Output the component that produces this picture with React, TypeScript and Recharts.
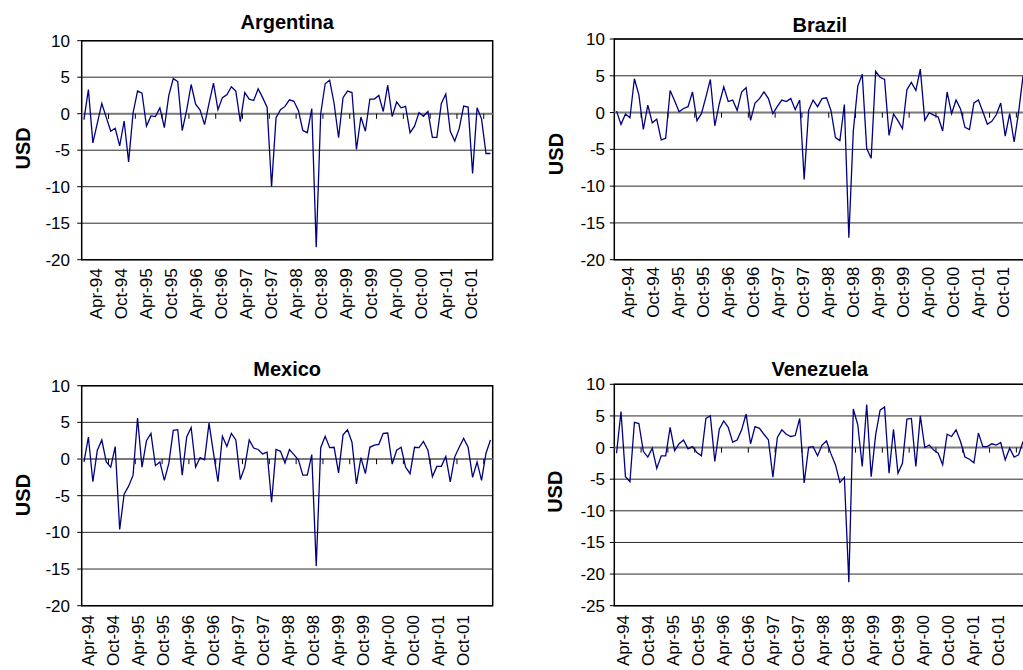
import React from 'react';
import { LineChart, Line, XAxis, YAxis, CartesianGrid, ReferenceLine, ReferenceArea } from 'recharts';

const argentina = [
  -0.8, 3.3, -4.0, -1.3, 1.4, -0.5, -2.4, -2.0, -4.4, -1.0,
  -6.6, 0.1, 3.1, 2.8, -1.7, -0.3, -0.4, 0.8, -1.9, 2.5,
  4.8, 4.4, -2.3, 0.5, 4.0, 1.3, 0.5, -1.5, 1.4, 4.2,
  0.55, 2.2, 2.6, 3.7, 3.1, -1.1, 2.9, 2.0, 1.8, 3.4,
  2.2, 0.9, -10.0, -0.55, 0.55, 1.0, 1.9, 1.7, 0.45, -2.3,
  -2.6, 0.7, -18.3, 0, 4.1, 4.6, 1.4, -3.3, 2.2, 3.1,
  2.9, -4.9, -0.45, -2.4, 2.0, 2.0, 2.5, 0.3, 3.9, -0.4,
  1.6, 0.8, 1.0, -2.6, -1.7, 0.15, -0.35, 0.3, -3.25, -3.25,
  1.4, 2.7, -2.4, -3.75, -2.05, 1.05, 0.9, -8.2, 0.8, -0.7,
  -5.45, -5.45,
];

const brazil = [
  0.2, -1.6, -0.2, -0.7, 4.6, 2.4, -2.3, 1.0, -1.4, -0.9,
  -3.7, -3.5, 3.0, 1.6, 0.1, 0.55, 0.8, 2.8, -1.1, -0.15,
  2.1, 4.5, -1.8, 1.2, 3.5, 1.5, 1.7, 0.3, 2.8, 3.4,
  -1.05, 1.3, 1.9, 2.8, 1.9, -0.15, 0.85, 1.7, 1.5, 1.9,
  0.4, 1.7, -9.1, 0.3, 1.7, 0.8, 1.9, 2.0, 0.3, -3.4,
  -3.8, 1.1, -17.0, -2.5, 3.6, 5.2, -4.9, -6.2, 5.6, 4.8,
  4.5, -3.1, -0.2, -1.1, -2.2, 3.1, 4.1, 3.0, 5.9, -1.05,
  0, -0.35, -0.6, -2.5, 2.8, -0.15, 1.7, 0.5, -2.0, -2.3,
  1.3, 1.7, 0.1, -1.6, -1.2, -0.3, 1.3, -3.2, -0.15, -4.0,
  0.05, 5.0,
];

const mexico = [
  -0.4, 3.0, -3.1, 1.2, 2.6, -0.4, -1.1, 1.7, -9.6, -4.8,
  -3.7, -2.2, 5.6, -1.1, 2.5, 3.5, -0.9, -0.4, -2.9, -0.6,
  3.9, 4.0, -2.2, 3.0, 4.3, -1.1, 0.2, -0.1, 4.9, 0.8,
  -3.1, 3.1, 1.7, 3.5, 2.6, -2.8, -1.1, 2.6, 1.5, 1.3,
  0.7, 0.95, -5.9, 1.3, 1.05, -0.55, 1.3, 0.6, -0.1, -2.2,
  -2.2, 0.6, -14.6, 1.55, 3.1, 1.55, 1.6, -1.9, 3.3, 4.0,
  2.3, -3.4, 0.2, -2.0, 1.6, 1.9, 2.0, 3.5, 3.55, -0.7,
  1.2, 1.6, -1.1, -2.0, 1.6, 1.55, 2.4, 1.2, -2.4, -1.0,
  -1.0, 0.35, -3.1, 0.3, 1.6, 2.8, 1.6, -2.5, -0.4, -2.9,
  0.8, 2.6,
];

const venezuela = [
  -0.9, 5.7, -4.6, -5.4, 4.0, 3.8, -0.6, -1.5, -0.1, -3.3,
  -1.3, -1.3, 3.2, -0.5, 0.6, 1.2, -0.2, 0.15, -0.8, -1.3,
  4.6, 5.0, -2.2, 2.9, 4.2, 3.2, 0.85, 1.2, 2.8, 5.3,
  0.6, 3.3, 3.05, 2.1, 1.2, -4.7, 1.6, 2.8, 2.1, 1.75,
  1.9, 4.6, -5.6, 0.05, 0.15, -1.3, 0.4, 1.05, -1.0, -2.7,
  -5.5, -4.7, -21.3, 6.1, 3.6, -3.0, 6.8, -4.6, 2.0, 5.9,
  6.4, -4.05, 2.9, -4.05, -2.5, 4.5, 4.6, -3.0, 5.0, 0,
  0.4, -0.4, -0.9, -2.7, 2.1, 1.75, 2.8, 0.95, -1.5, -1.85,
  -2.4, 2.3, 0.15, 0.15, 0.6, 0.4, 0.8, -1.95, -0.1, -1.5,
  -1.15, 0.95,
];

const dateLabels = [
  'Apr-94', 'Oct-94', 'Apr-95', 'Oct-95', 'Apr-96', 'Oct-96', 'Apr-97', 'Oct-97',
  'Apr-98', 'Oct-98', 'Apr-99', 'Oct-99', 'Apr-00', 'Oct-00', 'Apr-01', 'Oct-01',
];
// where the date labels sit, in observation units
const labelTicks = [
  3.36, 8.96, 14.55, 20.15, 25.75, 31.35, 36.94, 42.54,
  48.14, 53.73, 59.33, 64.93, 70.52, 76.12, 81.72, 87.32,
];
// small tick marks hanging under the zero line
const zeroTicks = [6, 12, 18, 24, 30, 36, 42, 48, 54, 60, 66, 72, 78, 84, 90];

const ticks20 = [-20, -15, -10, -5, 0, 5, 10];
const ticks25 = [-25, -20, -15, -10, -5, 0, 5, 10];

const FONT = '"Liberation Sans", Arial, sans-serif';
const N = 92;

const Panel = ({ title, values, yTicks, left, top, width, height, marginTop, yWidth, xHeight, tickGap, labelDx, labelDy, tickDepth, titleY, usdX, usdY }) => {
  const data = values.map((v, i) => ({ x: i + 0.5, v }));
  const yMin = yTicks[0];
  const yMax = yTicks[yTicks.length - 1];
  const plotRight = width - yWidth - 411;

  const renderLabel = (props) => {
    const { x, y, payload } = props;
    const tx = x + labelDx + 5;
    const ty = y + labelDy;
    const text = dateLabels[labelTicks.indexOf(payload.value)];
    return (
      <text x={tx} y={ty} transform={`rotate(-90 ${tx} ${ty})`} textAnchor="end" fontSize={17} fill="#000" fontFamily={FONT}>
        {text}
      </text>
    );
  };

  return (
    <>
      <div style={{ position: 'absolute', left, top, width, height }}>
        <LineChart width={width} height={height} data={data} margin={{ top: marginTop, right: plotRight, bottom: 0, left: 0 }}>
          <CartesianGrid vertical={false} stroke="#2a2a2a" />
          <XAxis
            type="number"
            dataKey="x"
            domain={[0, N]}
            ticks={labelTicks}
            interval={0}
            height={xHeight}
            axisLine={false}
            tickLine={false}
            tickSize={0}
            tickMargin={0}
            tick={renderLabel}
          />
          <YAxis
            type="number"
            domain={[yMin, yMax]}
            ticks={yTicks}
            interval={0}
            width={yWidth}
            axisLine={false}
            tickSize={4.5}
            tickMargin={tickGap}
            tickLine={{ stroke: '#000' }}
            tick={{ fill: '#000', fontSize: 17, fontFamily: FONT }}
          />
          <ReferenceLine y={0} stroke="#7a7a7a" strokeWidth={2} />
          {zeroTicks.map((t) => (
            <ReferenceLine key={t} segment={[{ x: t, y: 0 }, { x: t, y: -tickDepth }]} stroke="#000" />
          ))}
          <ReferenceArea x1={0} x2={N} y1={yMin} y2={yMax} fill="none" stroke="#000" strokeWidth={1.5} />
          <Line type="linear" dataKey="v" stroke="#000080" strokeWidth={1.3} dot={false} activeDot={false} isAnimationActive={false} />
        </LineChart>
      </div>
      <svg style={{ position: 'absolute', left, top, overflow: 'visible' }} width={width} height={height}>
        <text x={yWidth + 205.5} y={titleY} textAnchor="middle" fontSize={20} fontWeight="bold" fontFamily={FONT} fill="#000">
          {title}
        </text>
        <text x={usdX} y={usdY} transform={`rotate(-90 ${usdX} ${usdY})`} textAnchor="middle" fontSize={20} fontWeight="bold" fontFamily={FONT} fill="#000">
          USD
        </text>
      </svg>
    </>
  );
};

export default function App() {
  return (
    <div style={{ position: 'absolute', left: 0, top: 0, width: 1023, height: 670, overflow: 'hidden', background: '#fff', fontFamily: FONT }}>
      <Panel title="Argentina" values={argentina} yTicks={ticks20}
        left={0} top={0} width={500} height={340} marginTop={40.7} yWidth={81.7} xHeight={80.3}
        tickGap={7.2} labelDx={0} labelDy={8.6} tickDepth={0.7} titleY={29.3} usdX={30} usdY={148.3} />
      <Panel title="Brazil" values={brazil} yTicks={ticks20}
        left={520} top={0} width={510} height={340} marginTop={39} yWidth={94.3} xHeight={80.3}
        tickGap={4.8} labelDx={-0.3} labelDy={7} tickDepth={0.7} titleY={31.7} usdX={42.5} usdY={154} />
      <Panel title="Mexico" values={mexico} yTicks={ticks20}
        left={0} top={340} width={500} height={330} marginTop={45.7} yWidth={81.7} xHeight={64.3}
        tickGap={7.2} labelDx={-7.4} labelDy={9.3} tickDepth={0.7} titleY={36} usdX={30} usdY={155} />
      <Panel title="Venezuela" values={venezuela} yTicks={ticks25}
        left={520} top={340} width={510} height={330} marginTop={44.3} yWidth={94.3} xHeight={64.3}
        tickGap={4.8} labelDx={-5.3} labelDy={9.3} tickDepth={0.8} titleY={36} usdX={42.5} usdY={151.7} />
    </div>
  );
}
